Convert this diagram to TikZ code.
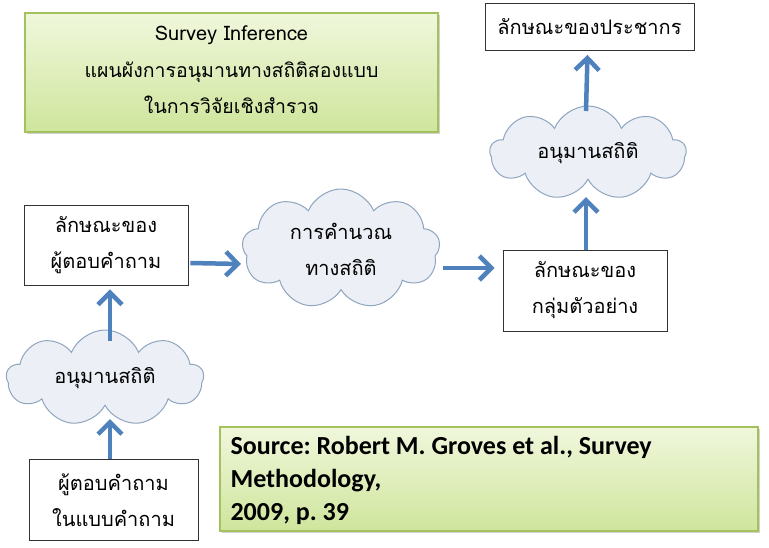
\documentclass[tikz,border=0pt]{standalone}
\usepackage{fontspec}
\setmainfont{Carlito}
\newfontfamily\thai[Script=Thai]{Loma}
\usetikzlibrary{shapes.symbols,arrows.meta,shadows,calc}
\definecolor{arrowblue}{HTML}{4F81BD}
\definecolor{cloudfill}{HTML}{ECF0F6}
\definecolor{cloudline}{HTML}{8FA5BF}
\definecolor{greenline}{HTML}{A3C25E}
\definecolor{greentop}{HTML}{F0F7DC}
\definecolor{greenbot}{HTML}{CFE59C}
\frenchspacing
\tikzset{
  plainbox/.style={draw=black!80, line width=0.9pt, fill=white, align=center,
    font=\thai\fontsize{20}{36}\selectfont, inner sep=0pt},
  greenbox/.style={draw=greenline, line width=2pt, top color=greentop, bottom color=greenbot,
    drop shadow={shadow xshift=2pt, shadow yshift=-2pt, opacity=0.35}, inner sep=0pt},
  cloudnode/.style={cloud, cloud puffs=9, cloud puff arc=135, cloud ignores aspect,
    draw=cloudline, line width=1pt,
    fill=cloudfill, align=center, font=\thai\fontsize{20}{36}\selectfont, inner sep=0pt},
  bluearrow/.style={draw=arrowblue, line width=4.5pt,
    -{Straight Barb[length=12pt,width=24pt,line width=4.5pt]}},
}
\begin{document}
\begin{tikzpicture}[x=1pt,y=-1pt]
\useasboundingbox[fill=white] (0,0) rectangle (769,547);

% title box
\node[greenbox, minimum width=413pt, minimum height=119pt] (title) at (231.5,72.5) {};
\node[font=\thai\fontsize{20}{20}\selectfont] (t1) at (231.5,35) {Survey Inference};
\node[font=\thai\fontsize{19.5}{20}\selectfont] (t2) at (231.5,72) {แผนผังการอนุมานทางสถิติสองแบบ};
\node[font=\thai\fontsize{19.5}{20}\selectfont] (t3) at (231.5,105) {ในการวิจัยเชิงสำรวจ};

% boxes
\node[plainbox, minimum width=209pt, minimum height=47pt] (pop) at (589.5,27) {ลักษณะของประชากร};
\node[plainbox, minimum width=164pt, minimum height=81pt] (sample) at (585,290.5) {ลักษณะของ\\กลุ่มตัวอย่าง};
\node[plainbox, minimum width=164pt, minimum height=80pt] (resp) at (106,245) {ลักษณะของ\\ผู้ตอบคำถาม};
\node[plainbox, minimum width=169pt, minimum height=81pt] (quest) at (113.5,500) {ผู้ตอบคำถาม\\ในแบบคำถาม};

% clouds
\node[cloudnode, minimum width=196pt, minimum height=94pt] (cloudR) at (588,153) {อนุมานสถิติ};
\node[cloudnode, minimum width=198pt, minimum height=120pt] (cloudM) at (341,249) {การคำนวณ\\ทางสถิติ};
\node[cloudnode, minimum width=197pt, minimum height=96pt] (cloudL) at (105,378) {อนุมานสถิติ};

% source box
\node[greenbox, minimum width=538pt, minimum height=104pt] (src) at (489,479) {};
\node[anchor=west, align=left, font=\bfseries\fontsize{26}{33}\selectfont] (srctext) at (227,480)
  {Source: Robert M. Groves et al., Survey\\Methodology,\\2009, p. 39};

% arrows
\draw[bluearrow] ([xshift=-2pt,yshift=42pt]cloudR.center) -- ([xshift=-2pt,yshift=-4pt]pop.south);
\draw[bluearrow] ([xshift=1pt]sample.north) -- ([xshift=-2pt,yshift=-44pt]cloudR.center);
\draw[bluearrow] ([xshift=2pt,yshift=-18pt]resp.east) -- ([xshift=-100pt,yshift=-15pt]cloudM.center);
\draw[bluearrow] ([xshift=102pt,yshift=-19pt]cloudM.center) -- ([xshift=-8pt,yshift=22.5pt]sample.west);
\draw[bluearrow] ([xshift=5pt,yshift=37pt]cloudL.center) -- ([xshift=4pt,yshift=-4pt]resp.south);
\draw[bluearrow] ([xshift=-3.5pt]quest.north) -- ([xshift=5pt,yshift=-41pt]cloudL.center);
\end{tikzpicture}
\end{document}
